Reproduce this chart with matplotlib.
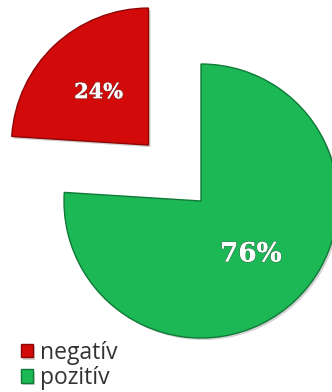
import matplotlib
matplotlib.use("Agg")
import matplotlib.pyplot as plt
import matplotlib.patheffects as pe

# Share of responses
categories = ["negatív", "pozitív"]
shares = [24, 76]
colors = ["#D20A0A", "#1DB856"]
edge_colors = ["#8E0505", "#0F7A36"]

W, H = 332, 392
R = 137
fig = plt.figure(figsize=(W / 100, H / 100), dpi=100)
ax = fig.add_axes([0, 0, 1, 1])

wedges, texts, autotexts = ax.pie(
    shares,
    colors=colors,
    explode=[0.56 * R, 0.0],
    startangle=90,
    counterclock=True,
    center=(201, 191),
    radius=R,
    autopct="%d%%",
    pctdistance=0.53,
    frame=True,
    wedgeprops=dict(linewidth=1.0),
)
ax.set_xlim(0, W)
ax.set_ylim(0, H)
ax.set_aspect("equal")
ax.axis("off")

for w, ec in zip(wedges, edge_colors):
    w.set_edgecolor(ec)
    w.set_path_effects([
        pe.SimplePatchShadow(offset=(1.5, -1.5), shadow_rgbFace="#808080", alpha=0.35),
        pe.Normal(),
    ])

sizes = [15, 19]
for t, s in zip(autotexts, sizes):
    t.set_color("white")
    t.set_fontsize(s)
    t.set_family("DejaVu Serif")
    t.set_fontweight("bold")
    t.set_path_effects([
        pe.withStroke(linewidth=1.2, foreground="#555555", alpha=0.5),
        pe.Normal(),
    ])

leg = ax.legend(
    wedges, categories,
    loc="upper left",
    bbox_to_anchor=(0.062, 0.131),
    bbox_transform=fig.transFigure,
    frameon=False,
    handlelength=0.55,
    handleheight=0.55,
    handletextpad=0.3,
    labelspacing=0.08,
    borderpad=0.0,
    borderaxespad=0.0,
    prop=dict(family="Open Sans", size=16.5),
)
for t in leg.get_texts():
    t.set_color("#333333")

fig.savefig("out.png", dpi=100, facecolor="white")
